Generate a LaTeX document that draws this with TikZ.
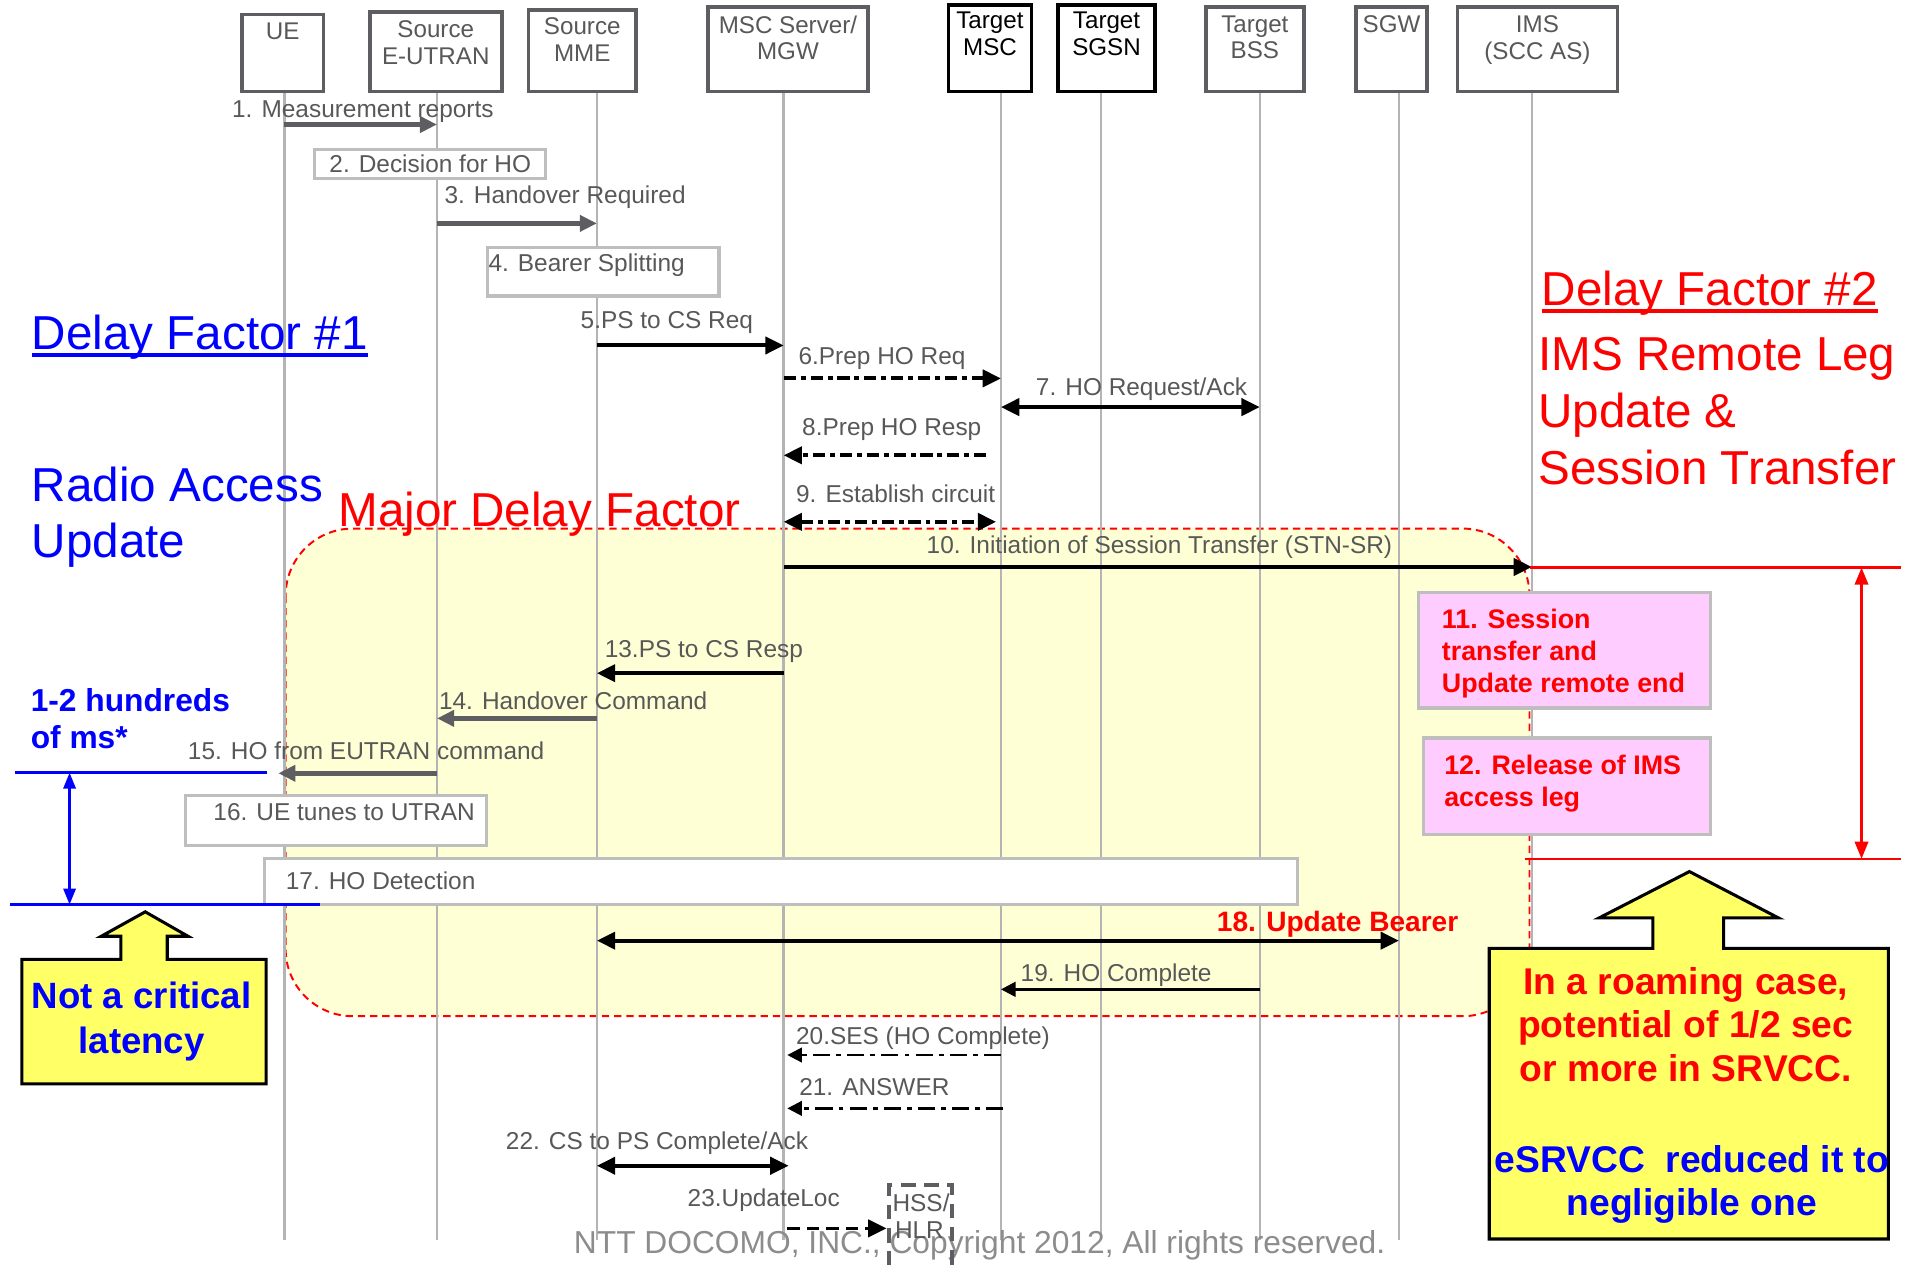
\documentclass[tikz,border=0pt]{standalone}
\usepackage{fontspec}
\setmainfont{Liberation Sans}
\usetikzlibrary{arrows.meta}

\definecolor{boxgray}{HTML}{5E5E62}
\definecolor{linegray}{HTML}{B4B4B4}
\definecolor{txtgray}{HTML}{585858}
\definecolor{litegray}{HTML}{BEBEBE}
\definecolor{zoneyellow}{HTML}{FFFFD6}
\definecolor{callyellow}{HTML}{FFFF66}
\definecolor{pinkfill}{HTML}{FFCCFF}
\definecolor{cpgray}{HTML}{8C8C8C}
\definecolor{pureblue}{HTML}{0000FF}
\definecolor{purered}{HTML}{FF0000}

\newcommand{\fsz}[2]{\fontsize{#1}{#2}\selectfont}

\begin{document}
\begin{tikzpicture}[x=1pt,y=1pt]
    \tikzset{
        hbox/.style={draw=boxgray, line width=3pt, fill=white, inner sep=0pt},
        hdtxt/.style={font=\fsz{19.8}{22}, text=txtgray, align=center, inner sep=0pt, anchor=north},
        lifeline/.style={draw=linegray, line width=2pt},
        stepbox/.style={draw=litegray, line width=2.5pt, fill=white, inner sep=0pt},
        pinkbox/.style={draw=litegray, line width=2.5pt, fill=pinkfill, inner sep=0pt},
        msgtxt/.style={font=\fsz{20}{22}, text=txtgray, inner sep=0pt, anchor=base west},
        redbold/.style={font=\fsz{22}{26}\bfseries, text=purered, inner sep=0pt, align=left, anchor=north west},
        bigtxt/.style={font=\fsz{39}{46.6}, inner sep=0pt, align=left},
        grayarr/.style={draw=boxgray, line width=4.5pt, -{Triangle[length=14pt,width=13pt]}},
        blkarr/.style={draw=black, line width=3.2pt, -{Triangle[length=15pt,width=14pt]}},
        blkboth/.style={draw=black, line width=3.2pt, {Triangle[length=15pt,width=14pt]}-{Triangle[length=15pt,width=14pt]}},
        dashdot/.style={dash pattern=on 10pt off 4pt on 4pt off 4pt},
        thindashdot/.style={draw=black, line width=2pt, dash pattern=on 14pt off 5pt on 4pt off 5pt, -{Triangle[length=12pt,width=12pt]}},
        thinarr/.style={draw=black, line width=2.2pt, -{Triangle[length=12pt,width=12pt]}},
        callout/.style={draw=black, line width=2.5pt, fill=callyellow, line join=miter},
        blueline/.style={draw=pureblue, line width=2pt},
        redline/.style={draw=purered, line width=2pt},
    }
    \useasboundingbox (0,0) rectangle (1568,-1036);

    % major delay zone
    \draw[purered, line width=1.6pt, dash pattern=on 6pt off 4pt, fill=zoneyellow, rounded corners=55pt]
        (234,-433) rectangle (1253,-832.5);

    % lifelines
    \foreach \n/\x in {ue/233,srce/358,mme/489,msc/642,tmsc/820,tsgsn/902,tbss/1032,sgw/1146,ims/1255} {
        \coordinate (\n-l) at (\x,-75);
        \draw[lifeline] (\n-l) -- (\n-l |- 0,-1016);
    }

    % entities
    \node[hbox, minimum width=67pt, minimum height=63pt] (ue) at (231.5,-43.5) {};
    \node[hdtxt] (ue-t) at ([yshift=-8pt]ue.north) {UE};
    \node[hbox, minimum width=108pt, minimum height=65pt] (srce) at (357,-42.5) {};
    \node[hdtxt] (srce-t) at ([yshift=-8pt]srce.north) {Source\\E-UTRAN};
    \node[hbox, minimum width=88pt, minimum height=67pt] (mme) at (477,-41.5) {};
    \node[hdtxt] (mme-t) at ([yshift=-8pt]mme.north) {Source\\MME};
    \node[hbox, minimum width=131pt, minimum height=69pt] (msc) at (645.5,-40.5) {};
    \node[hdtxt] (msc-t) at ([yshift=-8pt]msc.north) {MSC Server/\\MGW};
    \node[hbox, draw=black, minimum width=68pt, minimum height=71pt] (tmsc) at (811,-39.5) {};
    \node[hdtxt, text=black] (tmsc-t) at ([yshift=-7pt]tmsc.north) {Target\\MSC};
    \node[hbox, draw=black, minimum width=79pt, minimum height=71pt] (tsgsn) at (906.5,-39.5) {};
    \node[hdtxt, text=black] (tsgsn-t) at ([yshift=-7pt]tsgsn.north) {Target\\SGSN};
    \node[hbox, minimum width=80pt, minimum height=69pt] (tbss) at (1028,-40.5) {};
    \node[hdtxt] (tbss-t) at ([yshift=-8pt]tbss.north) {Target\\BSS};
    \node[hbox, minimum width=58pt, minimum height=69pt] (sgw) at (1140,-40.5) {};
    \node[hdtxt] (sgw-t) at ([yshift=-8pt]sgw.north) {SGW};
    \node[hbox, minimum width=131pt, minimum height=69pt] (ims) at (1259.5,-40.5) {};
    \node[hdtxt] (ims-t) at ([yshift=-8pt]ims.north) {IMS\\(SCC AS)};

    % local steps
    \node[stepbox, minimum width=189pt, minimum height=24pt, font=\fsz{20}{22}, text=txtgray] (hodec) at (352.5,-134.3) {2. Decision for HO};
    \node[stepbox, minimum width=190pt, minimum height=39.5pt] (split) at (494,-222.75) {};
    \node[msgtxt] (split-t) at (400,-222.6) {4. Bearer Splitting};
    \node[pinkbox, minimum width=239pt, minimum height=95pt] (sess) at (1281.5,-532.5) {};
    \node[redbold] (sess-t) at (1181,-499) {11. Session\\transfer and\\Update remote end};
    \node[pinkbox, minimum width=235pt, minimum height=79.4pt] (rel) at (1283.5,-644.3) {};
    \node[redbold] (rel-t) at (1183,-618.4) {12. Release of IMS\\access leg};
    \node[stepbox, minimum width=247pt, minimum height=41pt] (tune) at (275.4,-671.8) {};
    \node[msgtxt] (tune-t) at (174.7,-672.3) {16. UE tunes to UTRAN};
    \node[stepbox, minimum width=846.5pt, minimum height=37pt] (detect) at (639.75,-722.15) {};
    \node[msgtxt] (detect-t) at (234,-729) {17. HO Detection};

    % messages
    \draw[grayarr] (ue-l |- 0,-102) -- (srce-l |- 0,-102);
    \node[msgtxt] (m1) at (190,-96) {1. Measurement reports};
    \draw[grayarr] (srce-l |- 0,-183) -- (mme-l |- 0,-183);
    \node[msgtxt] (m3) at (364,-167) {3. Handover Required};
    \draw[blkarr] (mme-l |- 0,-283) -- (msc-l |- 0,-283);
    \node[msgtxt] (m5) at (475.5,-269) {5.PS to CS Req};
    \draw[blkarr, dashdot] (msc-l |- 0,-310) -- (tmsc-l |- 0,-310);
    \node[msgtxt] (m6) at (654,-299) {6.Prep HO Req};
    \draw[blkboth] (tmsc-l |- 0,-333.5) -- (tbss-l |- 0,-333.5);
    \node[msgtxt] (m7) at (848.5,-323.6) {7. HO Request/Ack};
    \draw[blkarr, dashdot] ([xshift=-12pt]tmsc-l |- 0,-373) -- (msc-l |- 0,-373);
    \node[msgtxt] (m8) at (657,-356.4) {8.Prep HO Resp};
    \draw[blkboth, dashdot] (msc-l |- 0,-427.5) -- ([xshift=-4pt]tmsc-l |- 0,-427.5);
    \node[msgtxt] (m9) at (652,-411.8) {9. Establish circuit};
    \draw[blkarr] (msc-l |- 0,-464.5) -- (ims-l |- 0,-464.5);
    \node[msgtxt] (m10) at (759,-453.8) {10. Initiation of Session Transfer (STN-SR)};
    \draw[blkarr] (msc-l |- 0,-551.5) -- (mme-l |- 0,-551.5);
    \node[msgtxt] (m13) at (495.3,-538.4) {13.PS to CS Resp};
    \draw[grayarr] (mme-l |- 0,-588.5) -- (srce-l |- 0,-588.5);
    \node[msgtxt] (m14) at (359.5,-581.6) {14. Handover Command};
    \draw[grayarr] (srce-l |- 0,-633.5) -- ([xshift=-5pt]ue-l |- 0,-633.5);
    \node[msgtxt] (m15) at (153.8,-622.6) {15. HO from EUTRAN command};
    \draw[blkboth] (mme-l |- 0,-770.6) -- (sgw-l |- 0,-770.6);
    \node[msgtxt, font=\fsz{23}{26}\bfseries, text=purered] (m18) at (996.7,-763.3) {18. Update Bearer};
    \draw[thinarr] (tbss-l |- 0,-810.5) -- (tmsc-l |- 0,-810.5);
    \node[msgtxt] (m19) at (836,-804.2) {19. HO Complete};
    \draw[thindashdot] (tmsc-l |- 0,-864.3) -- ([xshift=3pt]msc-l |- 0,-864.3);
    \node[msgtxt] (m20) at (652,-856) {20.SES (HO Complete)};
    \draw[thindashdot] ([xshift=2pt]tmsc-l |- 0,-908) -- ([xshift=3pt]msc-l |- 0,-908);
    \node[msgtxt] (m21) at (654.6,-897.8) {21. ANSWER};
    \draw[blkboth] (mme-l |- 0,-955) -- ([xshift=4pt]msc-l |- 0,-955);
    \node[msgtxt] (m22) at (414.3,-941.5) {22. CS to PS Complete/Ack};

    % copyright, hss
    \node[font=\fsz{26}{30}, text=cpgray, anchor=base west, inner sep=0pt] (copy) at (470,-1026.5)
        {NTT DOCOMO, INC., Copyright 2012, All rights reserved.};
    \node[draw=boxgray, line width=3.5pt, dash pattern=on 12pt off 7pt, minimum width=52pt, minimum height=70pt, inner sep=0pt] (hss) at (754,-1006) {};
    \node[msgtxt] (hss-t) at (731,-992.6) {HSS/};
    \node[msgtxt] (hlr-t) at (733,-1014.4) {HLR};
    \draw[blkarr, line width=3pt, dash pattern=on 10pt off 6pt] ([xshift=3pt]msc-l |- 0,-1006.3) -- (hss.west |- 0,-1006.3);
    \node[msgtxt] (m23) at (563.2,-988.5) {23.UpdateLoc};

    % delay annotations
    \node[bigtxt, text=pureblue, anchor=base west] (df1) at (26,-286) {Delay Factor \#1};
    \draw[pureblue, line width=3pt] ([yshift=-5pt]df1.base west) -- ([yshift=-5pt]df1.base east);
    \node[bigtxt, text=pureblue, anchor=north west] (radio) at (26,-382) {Radio Access\\Update};
    \node[bigtxt, text=purered, anchor=base west] (major) at (277,-431.5) {Major Delay Factor};
    \node[bigtxt, text=purered, anchor=base west] (df2) at (1263,-250) {Delay Factor \#2};
    \draw[purered, line width=3pt] ([yshift=-5pt]df2.base west) -- ([yshift=-5pt]df2.base east);
    \node[bigtxt, text=purered, anchor=north west] (imsleg) at (1260,-276) {IMS Remote Leg\\Update \&\\Session Transfer};
    \node[font=\fsz{26}{31}\bfseries, text=pureblue, inner sep=0pt, align=left, anchor=north west] (hund) at (25,-563.5) {1-2 hundreds\\of ms*};

    % radio access span
    \coordinate (bt-a) at (12,-633);
    \coordinate (bt-b) at (219,-633);
    \coordinate (bb-a) at (8,-741);
    \coordinate (bb-b) at (262,-741);
    \draw[blueline] (bt-a) -- (bt-b);
    \draw[blueline] (bb-a) -- (bb-b);
    \draw[blueline, {Triangle[length=13pt,width=10pt]}-{Triangle[length=13pt,width=10pt]}] (bt-a -| 57,0) -- (bb-a -| 57,0);

    % ims span
    \coordinate (rt-a) at (1253,-465);
    \coordinate (rt-b) at (1557,-465);
    \coordinate (rb-a) at (1249,-703.5);
    \coordinate (rb-b) at (1557,-703.5);
    \draw[redline] (rt-a) -- (rt-b);
    \draw[redline] (rb-a) -- (rb-b);
    \draw[redline, {Triangle[length=14pt,width=11pt]}-{Triangle[length=14pt,width=11pt]}] (rt-a -| 1525,0) -- (rb-a -| 1525,0);

    % callouts
    \draw[callout] (18,-786) -- (99,-786) -- (99,-767) -- (83,-767) -- (119,-747) -- (154,-767)
        -- (137,-767) -- (137,-786) -- (218,-786) -- (218,-888) -- (18,-888) -- cycle;
    \node[font=\fsz{30}{36.7}\bfseries, text=pureblue, align=center, inner sep=0pt, anchor=north] (notcrit) at (116,-804.5) {Not a critical\\latency};
    \draw[callout] (1220,-777) -- (1354,-777) -- (1354,-752) -- (1310,-752) -- (1384,-714) -- (1457,-752)
        -- (1412,-752) -- (1412,-777) -- (1547,-777) -- (1547,-1015) -- (1220,-1015) -- cycle;
    \node[font=\fsz{30.5}{36}\bfseries, text=purered, align=center, inner sep=0pt, anchor=north] (roam) at (1381,-792) {In a roaming case,\\potential of 1/2 sec\\or more in SRVCC.};
    \node[font=\fsz{30.5}{35.2}\bfseries, text=pureblue, align=center, inner sep=0pt, anchor=north] (esrvcc) at (1386,-938) {eSRVCC~ reduced it to\\negligible one};
\end{tikzpicture}
\end{document}
